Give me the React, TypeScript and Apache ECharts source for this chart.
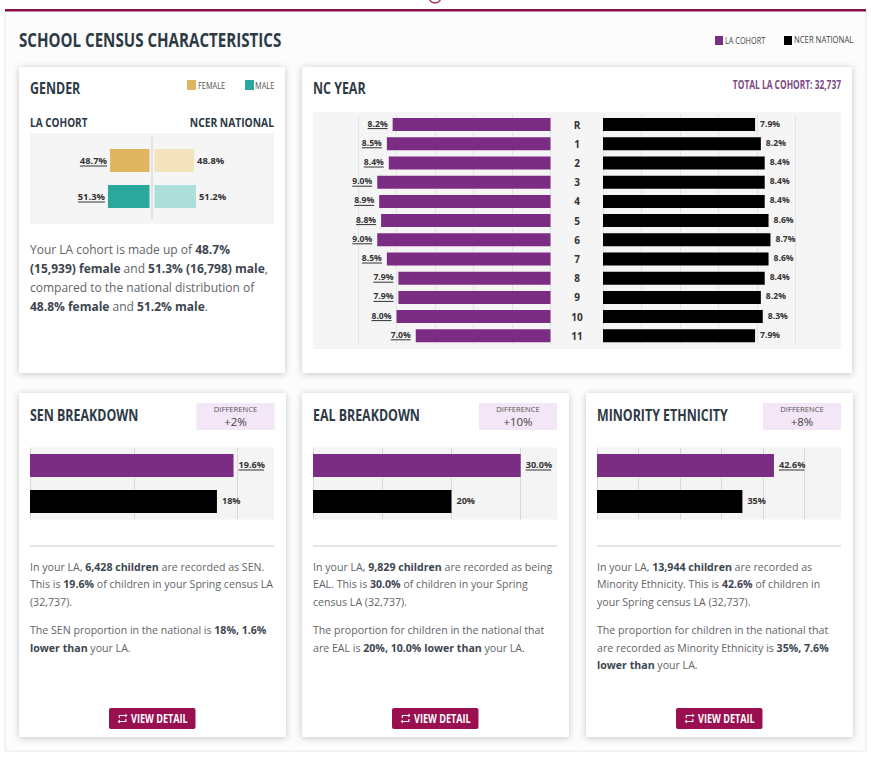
import React, { useEffect, useRef } from "react";
import * as echarts from "echarts";

const FONT = '"Open Sans", "Noto Sans", sans-serif';
const PURPLE = "#7b2d83";
const BLACK = "#000000";
const INK = "#2d3a46";
const BODY = "#5f6468";
const MAROON = "#9a0f50";
const LABEL = "#333333";

const ncYears = ["R", "1", "2", "3", "4", "5", "6", "7", "8", "9", "10", "11"];
const ncLa = [8.2, 8.5, 8.4, 9.0, 8.9, 8.8, 9.0, 8.5, 7.9, 7.9, 8.0, 7.0];
const ncNational = [7.9, 8.2, 8.4, 8.4, 8.4, 8.6, 8.7, 8.6, 8.4, 8.2, 8.3, 7.9];

const genderCats = ["Female", "Male"];
const genderLa = [48.7, 51.3];
const genderNational = [48.8, 51.2];
const genderLaColors = ["#dfb65f", "#2aa89c"];
const genderNationalColors = ["#f2e3bd", "#aeded9"];

const breakdownCats = ["LA Cohort", "NCER National"];
const senValues = [19.6, 18];
const ealValues = [30.0, 20];
const minorityValues = [42.6, 35];

const genderLines = [
  "Your LA cohort is made up of {b|48.7%}",
  "{b|(15,939) female} and {b|51.3% (16,798) male},",
  "compared to the national distribution of",
  "{b|48.8% female} and {b|51.2% male}.",
];
const senLines = [
  ["In your LA, {b|6,428 children} are recorded as SEN.", "This is {b|19.6%} of children in your Spring census LA", "(32,737)."],
  ["The SEN proportion in the national is {b|18%, 1.6%}", "{b|lower than} your LA."],
];
const ealLines = [
  ["In your LA, {b|9,829 children} are recorded as being", "EAL. This is {b|30.0%} of children in your Spring", "census LA (32,737)."],
  ["The proportion for children in the national that", "are EAL is {b|20%, 10.0% lower than} your LA."],
];
const minorityLines = [
  ["In your LA, {b|13,944 children} are recorded as", "Minority Ethnicity. This is {b|42.6%} of children in", "your Spring census LA (32,737)."],
  ["The proportion for children in the national that", "are recorded as Minority Ethnicity is {b|35%, 7.6%}", "{b|lower than} your LA."],
];

echarts.graphic.registerShape(
  "retweetIcon",
  echarts.graphic.extendPath("M7 7h10v3l4-4-4-4v3H5v6h2V7zm10 10H7v-3l-4 4 4 4v-3h12v-6h-2v4z", {})
);

function txt(text: string, x: number, y: number, size: number, o: any = {}) {
  return {
    type: "text",
    x,
    y,
    scaleX: o.sx ?? 1,
    style: {
      text,
      fontFamily: FONT,
      fontSize: size,
      fontWeight: o.weight ?? "normal",
      fill: o.color ?? INK,
      textAlign: o.align ?? "left",
      textVerticalAlign: "middle",
      align: o.align ?? "left",
      verticalAlign: "middle",
      rich: o.rich,
    },
  };
}
function rect(x: number, y: number, w: number, h: number, fill: string, extra: any = {}) {
  return { type: "rect", shape: { x, y, width: w, height: h, r: extra.r ?? 0 }, style: { fill, ...extra.style } };
}
function card(x: number, y: number, w: number, h: number) {
  return rect(x, y, w, h, "#ffffff", {
    style: { shadowBlur: 7, shadowColor: "rgba(0,0,0,0.22)", shadowOffsetX: 0, shadowOffsetY: 1 },
  });
}
function title(text: string, x: number, y: number) {
  return txt(text, x, y, 15.5, { weight: "bold", sx: 0.8 });
}
function bodyLines(paragraphs: string[][], x: number) {
  const out: any[] = [];
  const ys = [566.5, 584, 601.5, 630, 647.5, 665];
  let k = 0;
  paragraphs.forEach((p, pi) => {
    if (pi === 1) k = 3;
    p.forEach((line) => {
      out.push(txt(line, x, ys[k], 10.6, {
        color: BODY,
        rich: { b: { fontFamily: FONT, fontSize: 10.6, fontWeight: "bold", fill: "#3c4650", color: "#3c4650" } },
      }));
      k++;
    });
  });
  return out;
}
function button(x: number) {
  return [
    rect(x, 708, 86.5, 21, MAROON, { r: 2 }),
    { type: "retweetIcon", x: x + 7, y: 712.5, scaleX: 0.55, scaleY: 0.5, style: { fill: "#ffffff" } },
    txt("VIEW DETAIL", x + 22, 718.5, 12, { weight: "bold", color: "#ffffff", sx: 0.76 }),
  ];
}
function breakdownChrome(x: number, name: string, diff: string, badgeX: number, lines: string[][]) {
  const plotX = x + 11;
  return [
    card(x, 393, 267, 344),
    title(name, plotX, 414.5),
    rect(badgeX, 403, 78, 27, "#f3e6f6"),
    txt("DIFFERENCE", badgeX + 39, 408.5, 7.6, { align: "center", color: "#555555" }),
    txt(diff, badgeX + 39, 421.5, 11.5, { align: "center", color: "#444444" }),
    rect(plotX, 447.5, 244, 72, "#f4f4f4"),
    { type: "line", shape: { x1: plotX, y1: 546, x2: plotX + 244, y2: 546 }, style: { stroke: "#c9c9c9", lineWidth: 1 } },
    ...bodyLines(lines, plotX),
    ...button(x + 90),
  ];
}

function underline(xAxisIndex: number, yAxisIndex: number, values: number[], gap: number, width: number, dir: number, dy: number) {
  return {
    type: "custom",
    xAxisIndex,
    yAxisIndex,
    silent: true,
    z: 5,
    data: values.map((v, i) => [v, i]),
    encode: { x: 0, y: 1 },
    renderItem: (_p: any, api: any) => {
      const pt = api.coord([api.value(0), api.value(1)]);
      const x1 = pt[0] + dir * gap;
      return {
        type: "line",
        shape: { x1, y1: pt[1] + dy, x2: x1 + dir * width, y2: pt[1] + dy },
        style: { stroke: "#333333", lineWidth: 1 },
      };
    },
  };
}
function bars(xAxisIndex: number, yAxisIndex: number, values: number[], colors: string[], barWidth: number, pos: string, fmt: (v: number) => string, size: number, dist: number, dy: number) {
  return {
    type: "bar",
    xAxisIndex,
    yAxisIndex,
    barWidth,
    silent: true,
    data: values.map((v, i) => ({ value: v, itemStyle: { color: colors[i % colors.length] } })),
    label: {
      show: true,
      position: pos,
      distance: dist,
      offset: [0, dy],
      formatter: (p: any) => fmt(p.value),
      fontFamily: FONT,
      fontSize: size,
      fontWeight: "bold",
      color: LABEL,
    },
  };
}
const oneDec = (v: number) => `${v.toFixed(1)}%`;
const plain = (v: number) => `${v}%`;

function valueAxis(gridIndex: number, max: number, interval: number, inverse: boolean, line: string) {
  return {
    type: "value",
    gridIndex,
    min: 0,
    max,
    interval,
    inverse,
    axisLine: { show: false },
    axisTick: { show: false },
    axisLabel: { show: false },
    splitLine: { show: true, lineStyle: { color: line, width: 1 } },
  };
}
function catAxis(gridIndex: number, data: string[], o: any = {}) {
  return {
    type: "category",
    gridIndex,
    data,
    inverse: true,
    position: o.position ?? "left",
    axisLine: { show: false },
    axisTick: { show: false },
    axisLabel: o.label ?? { show: false },
  };
}

function buildOption() {
  const graphicEls: any[] = [
    rect(5, 10, 861, 741, "#fcfcfc", { style: { stroke: "#e6e6e6", lineWidth: 1 } }),
    { type: "circle", shape: { cx: 435, cy: -3, r: 6 }, style: { fill: "#ffffff", stroke: "#a8386c", lineWidth: 1.5 } },
    rect(5, 9, 861, 2.4, "#86104c"),
    txt("SCHOOL CENSUS CHARACTERISTICS", 19, 39, 20, { weight: "bold", sx: 0.756 }),
    rect(715, 36, 8, 9, PURPLE),
    txt("LA COHORT", 725, 40, 9.5, { color: "#444444", sx: 0.77 }),
    rect(784, 36, 8, 9, BLACK),
    txt("NCER NATIONAL", 794, 40, 9.5, { color: "#444444", sx: 0.81 }),

    card(19, 67, 266, 306),
    title("GENDER", 30, 88),
    rect(187, 80, 9, 10, "#dfb65f"),
    txt("FEMALE", 198, 85, 9.5, { color: "#555555", sx: 0.78 }),
    rect(245, 80, 9, 10, "#2aa89c"),
    txt("MALE", 255, 85, 9.5, { color: "#555555", sx: 0.78 }),
    txt("LA COHORT", 30, 121.5, 13, { weight: "bold", sx: 0.77 }),
    txt("NCER NATIONAL", 274, 121.5, 13, { weight: "bold", sx: 0.79, align: "right" }),
    rect(30, 133, 244, 91, "#f5f5f5"),
    { type: "line", shape: { x1: 152, y1: 137, x2: 152, y2: 220 }, style: { stroke: "#e2e2e2", lineWidth: 2 } },
    ...genderLines.map((l, i) =>
      txt(l, 30, 249 + i * 19.2, 12, {
        color: BODY,
        rich: { b: { fontFamily: FONT, fontSize: 12, fontWeight: "bold", fill: "#3c4650", color: "#3c4650" } },
      })
    ),

    card(302, 67, 550, 306),
    title("NC YEAR", 313, 88),
    txt("TOTAL LA COHORT: 32,737", 841, 84, 11.5, { weight: "bold", color: "#7b4a85", sx: 0.73, align: "right" }),
    rect(313, 112, 528, 237, "#f5f5f5"),

    ...breakdownChrome(19, "SEN BREAKDOWN", "+2%", 196.5, senLines),
    ...breakdownChrome(302, "EAL BREAKDOWN", "+10%", 479, ealLines),
    ...breakdownChrome(586, "MINORITY ETHNICITY", "+8%", 763, minorityLines),
  ];

  const grids = [
    { left: 68.5, top: 142.5, width: 81, height: 72 },
    { left: 154.5, top: 142.5, width: 81, height: 72 },
    { left: 358, top: 115, width: 192.5, height: 230.4 },
    { left: 603, top: 115, width: 192.5, height: 230.4 },
    { left: 30, top: 447.5, width: 207.7, height: 72 },
    { left: 313, top: 447.5, width: 207.7, height: 72 },
    { left: 597, top: 447.5, width: 207.7, height: 72 },
  ];

  const xAxis = [
    valueAxis(0, 100, 100, true, "transparent"),
    valueAxis(1, 100, 100, false, "transparent"),
    valueAxis(2, 10, 2, true, "#e4e4e4"),
    valueAxis(3, 10, 2, false, "#e4e4e4"),
    valueAxis(4, 20, 10, false, "#d9d9d9"),
    valueAxis(5, 30, 10, false, "#d9d9d9"),
    valueAxis(6, 50, 10, false, "#d9d9d9"),
  ];
  const yAxis = [
    catAxis(0, genderCats, { position: "right" }),
    catAxis(1, genderCats),
    catAxis(2, ncYears, {
      position: "right",
      label: { show: true, margin: 26.5, align: "center", fontFamily: FONT, fontSize: 10, fontWeight: "bold", color: LABEL },
    }),
    catAxis(3, ncYears),
    catAxis(4, breakdownCats),
    catAxis(5, breakdownCats),
    catAxis(6, breakdownCats),
  ];

  const breakdownColors = [PURPLE, BLACK];
  const breakdownSeries = (idx: number, vals: number[]) => [
    bars(idx, idx, vals, breakdownColors, 23, "right", (v) => (v === vals[0] ? oneDec(v) : plain(v)), 9.1, 5, -1),
    underline(idx, idx, vals.slice(0, 1), 5, 25.5, 1, 4.5),
  ];

  const series: any[] = [
    bars(0, 0, genderLa, genderLaColors, 23, "left", oneDec, 9.4, 3, -0.5),
    underline(0, 0, genderLa, 3, 27, -1, 5.5),
    bars(1, 1, genderNational, genderNationalColors, 23, "right", oneDec, 9.4, 3, -0.5),
    bars(2, 2, ncLa, [PURPLE], 13, "left", oneDec, 8.6, 5, -1),
    underline(2, 2, ncLa, 5, 20, -1, 4),
    bars(3, 3, ncNational, [BLACK], 13, "right", oneDec, 8.6, 5, -1),
    ...breakdownSeries(4, senValues),
    ...breakdownSeries(5, ealValues),
    ...breakdownSeries(6, minorityValues),
  ];

  return {
    animation: false,
    backgroundColor: "#ffffff",
    textStyle: { fontFamily: FONT },
    grid: grids,
    xAxis,
    yAxis,
    series,
    graphic: { elements: graphicEls },
  };
}

export default function App() {
  const ref = useRef<HTMLDivElement>(null);
  useEffect(() => {
    const chart = echarts.init(ref.current!, undefined, { renderer: "svg" });
    chart.setOption(buildOption() as any);
    return () => chart.dispose();
  }, []);
  return <div ref={ref} style={{ position: "absolute", left: 0, top: 0, width: 871, height: 757 }} />;
}
